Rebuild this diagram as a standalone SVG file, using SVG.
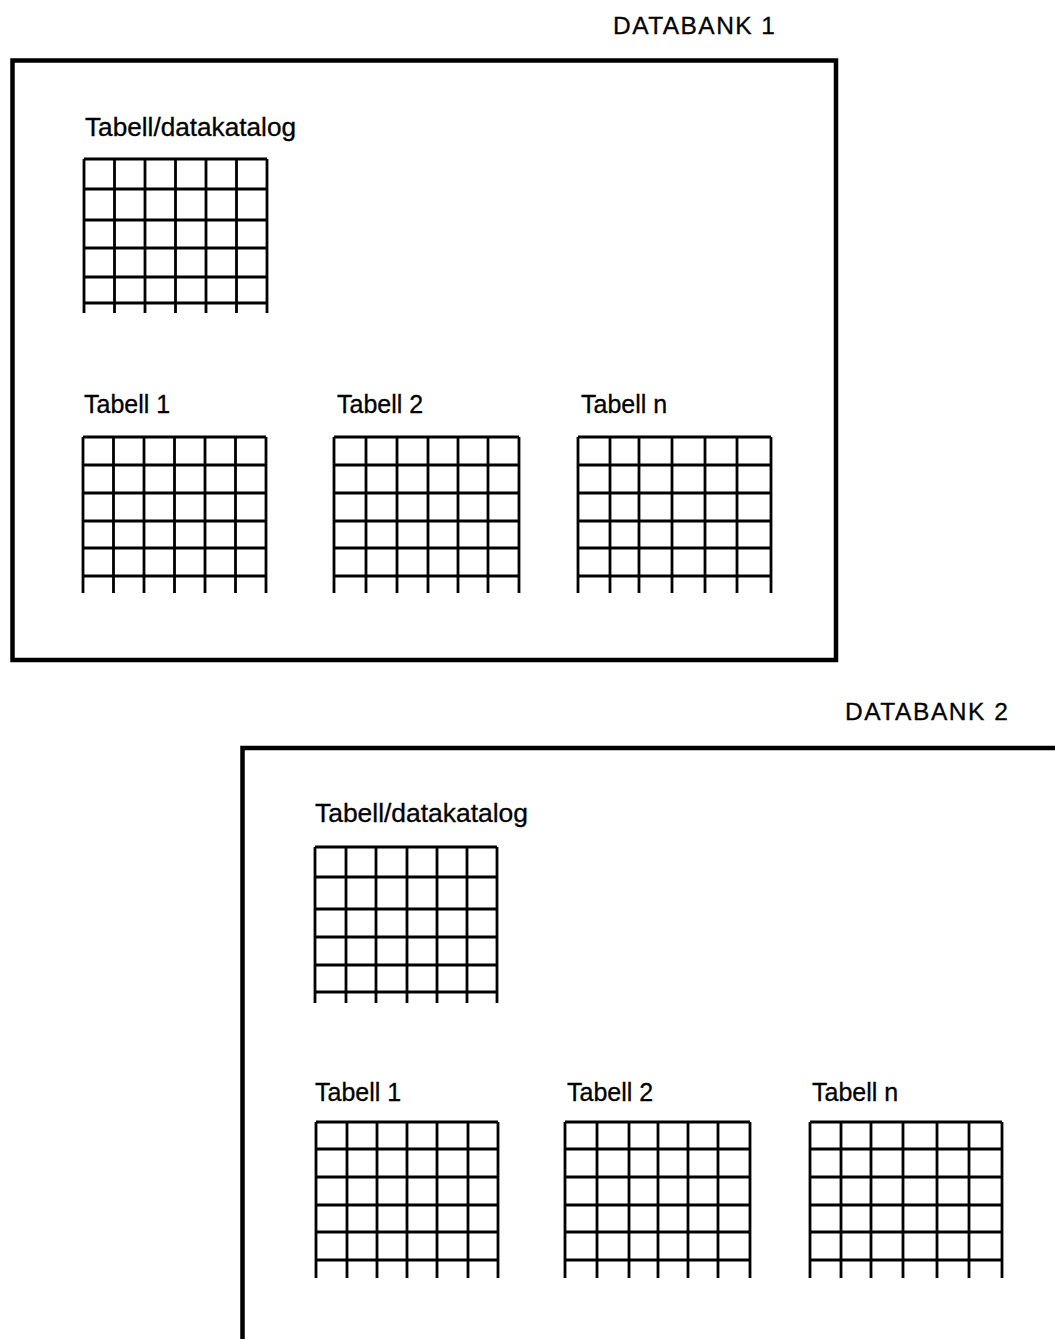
<svg xmlns="http://www.w3.org/2000/svg" width="1055" height="1339" viewBox="0 0 1055 1339">
<style>
.frame{fill:none;stroke:#000;stroke-width:4.5;stroke-linejoin:miter}
.grid{fill:none;stroke:#000;stroke-width:2.8;stroke-linecap:butt}
.lbl{font-family:"Liberation Sans",Arial,Helvetica,sans-serif;font-size:25px;fill:#000;stroke:#000;stroke-width:0.3}
.title{font-family:"Liberation Sans",Arial,Helvetica,sans-serif;font-size:24.5px;fill:#000;stroke:#000;stroke-width:0.3}
</style>
<rect width="1055" height="1339" fill="#fff"/>

<g id="databank1">
  <text class="title" x="613" y="34" textLength="162" lengthAdjust="spacing">DATABANK 1</text>
  <rect class="frame" x="12.5" y="60.5" width="823.5" height="599.5"/>
  <g id="db1-catalog">
    <text class="lbl" x="85" y="136" textLength="211" lengthAdjust="spacingAndGlyphs">Tabell/datakatalog</text>
    <path class="grid" d="M84 159H267M84 189H267M84 220H267M84 248H267M84 277H267M84 303H267
      M84 159V313M114.5 159V313M145 159V313M175.5 159V313M206 159V313M236.5 159V313M267 159V313"/>
  </g>
  <g id="db1-tabell1">
    <text class="lbl" x="84" y="413">Tabell 1</text>
    <path class="grid" d="M83 437H266M83 465H266M83 493H266M83 521H266M83 548H266M83 576H266
      M83 437V593M113.5 437V593M144 437V593M174.5 437V593M205 437V593M235.5 437V593M266 437V593"/>
  </g>
  <g id="db1-tabell2">
    <text class="lbl" x="337" y="413">Tabell 2</text>
    <path class="grid" d="M334 437H519M334 465H519M334 493H519M334 521H519M334 548H519M334 576H519
      M334 437V593M366 437V593M397 437V593M428 437V593M458 437V593M488 437V593M519 437V593"/>
  </g>
  <g id="db1-tabelln">
    <text class="lbl" x="581" y="413">Tabell n</text>
    <path class="grid" d="M578 437H771M578 465H771M578 493H771M578 521H771M578 548H771M578 576H771
      M578 437V593M610 437V593M639 437V593M672 437V593M705 437V593M737 437V593M771 437V593"/>
  </g>
</g>

<g id="databank2">
  <text class="title" x="845" y="720" textLength="163" lengthAdjust="spacing">DATABANK 2</text>
  <path class="frame" d="M242.5 1345V748H1060"/>
  <g id="db2-catalog">
    <text class="lbl" x="315" y="822" textLength="213" lengthAdjust="spacingAndGlyphs">Tabell/datakatalog</text>
    <path class="grid" d="M315 847H497M315 877H497M315 909H497M315 937H497M315 965H497M315 992H497
      M315 847V1003M346 847V1003M376 847V1003M407 847V1003M437 847V1003M467 847V1003M497 847V1003"/>
  </g>
  <g id="db2-tabell1">
    <text class="lbl" x="315" y="1101">Tabell 1</text>
    <path class="grid" d="M316 1122H498M316 1149H498M316 1177H498M316 1205H498M316 1232H498M316 1260H498
      M316 1122V1278M347 1122V1278M377 1122V1278M407 1122V1278M437 1122V1278M468 1122V1278M498 1122V1278"/>
  </g>
  <g id="db2-tabell2">
    <text class="lbl" x="567" y="1101">Tabell 2</text>
    <path class="grid" d="M565 1122H750M565 1149H750M565 1177H750M565 1205H750M565 1232H750M565 1260H750
      M565 1122V1278M597 1122V1278M629 1122V1278M658 1122V1278M688 1122V1278M718 1122V1278M750 1122V1278"/>
  </g>
  <g id="db2-tabelln">
    <text class="lbl" x="812" y="1101">Tabell n</text>
    <path class="grid" d="M810 1122H1002M810 1149H1002M810 1177H1002M810 1205H1002M810 1232H1002M810 1260H1002
      M810 1122V1278M841 1122V1278M871 1122V1278M903 1122V1278M937 1122V1278M969 1122V1278M1002 1122V1278"/>
  </g>
</g>

<g id="connectors"></g>
</svg>
